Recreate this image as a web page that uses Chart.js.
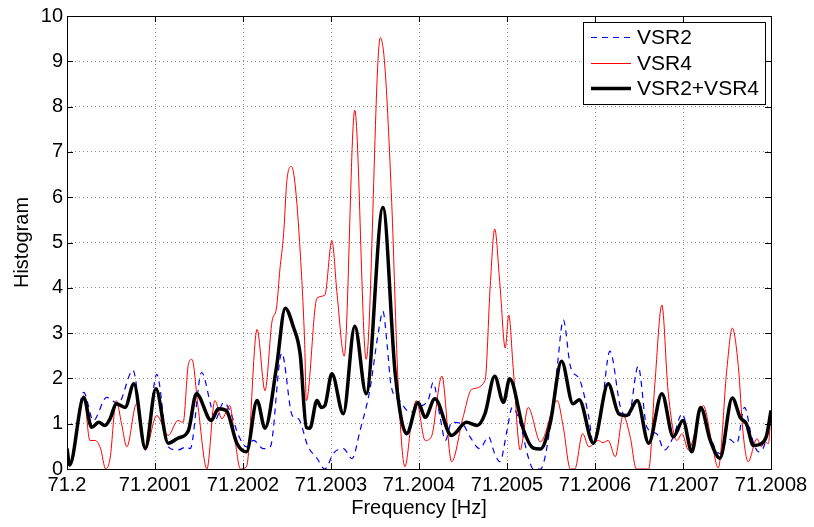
<!DOCTYPE html>
<html>
<head>
<meta charset="utf-8">
<script src="https://cdn.jsdelivr.net/npm/chart.js@4/dist/chart.umd.min.js"></script>
<style>
  html, body { margin: 0; padding: 0; background: #fff; }
</style>
</head>
<body>
<canvas id="chart" width="814" height="527"></canvas>
<script>
// x positions are offsets from 71.2 Hz, in micro-hertz
const xTickValues = [0, 100, 200, 300, 400, 500, 600, 700, 800];
const xTickLabels = ['71.2', '71.2001', '71.2002', '71.2003', '71.2004', '71.2005', '71.2006', '71.2007', '71.2008'];
const yTickValues = [0, 1, 2, 3, 4, 5, 6, 7, 8, 9, 10];

const seriesNames = ['VSR2', 'VSR4', 'VSR2+VSR4'];

const vsr2Offset = [0, 3, 19, 30, 45, 58, 75, 89, 102, 115, 126, 136, 140, 153, 163, 168, 178, 185, 195, 204,
  212, 223, 231, 244, 256, 263, 274, 284, 293, 303, 314, 324, 333, 344, 354, 359, 364, 368, 378, 390,
  399, 411, 416, 424, 430, 437, 449, 458, 469, 479, 486, 492, 500, 506, 515, 524, 530, 538, 549, 557,
  564, 572, 583, 593, 598, 606, 617, 629, 638, 649, 659, 670, 679, 689, 699, 710, 721, 731, 742, 751,
  761, 770, 778, 786, 793, 800];
const vsr2Hist = [0.49, 0.13, 1.69, 1.07, 1.58, 1.44, 2.18, 0.42, 2.09, 0.49, 0.42, 0.49, 0.45, 2.13, 1.44, 1.07, 1.47, 1.29, 0.74, 0.49,
  0.63, 0.45, 0.49, 2.56, 1.18, 1.11, 0.49, 0.24, 0, 0.35, 0.45, 0.23, 0.85, 1.73, 3.04, 3.48, 2.7, 1.87, 1.51, 1.25,
  1.36, 1.55, 1.91, 1.14, 0.63, 1.03, 1.0, 0.71, 0.45, 0.71, 0.34, 0.16, 0.85, 1.36, 1.0, 0.27, 0, 0, 0.92, 2.24,
  3.29, 2.27, 1.95, 1.14, 0.56, 1.07, 2.6, 1.36, 1.14, 2.27, 0.92, 0.78, 0.42, 0.71, 1.22, 0.49, 1.36, 0.71, 0.34, 0.67,
  0.56, 1.36, 0.71, 0.38, 0.56, 1.40];

const vsr4Offset = [0, 3, 19, 26, 32, 38, 44, 49, 56, 62, 68, 79, 89, 102, 115, 126, 132, 138, 142, 149,
  159, 168, 176, 185, 191, 197, 204, 216, 225, 233, 238, 242, 246, 250, 255, 259, 265, 270, 272, 284,
  293, 301, 307, 315, 327, 340, 356, 361, 369, 376, 384, 392, 397, 407, 414, 426, 437, 450, 460, 475,
  481, 486, 492, 498, 502, 507, 515, 524, 538, 557, 564, 572, 577, 586, 593, 604, 609, 615, 623, 632,
  640, 647, 661, 668, 676, 683, 693, 699, 706, 723, 733, 740, 750, 756, 763, 768, 774, 784, 789, 793,
  797, 800];
const vsr4Hist = [0.35, 0.09, 1.62, 0.63, 0.63, 0.46, 0.0, 0.24, 1.51, 1.0, 0.49, 1.44, 0.42, 1.18, 0.74, 1.07, 1.03, 2.32, 2.42, 1.36,
  0, 1.51, 1.11, 1.40, 0.63, 0, 0.05, 3.08, 1.73, 3.26, 3.55, 4.42, 5.15, 6.39, 6.68, 6.32, 4.79, 2.82, 1.51, 3.77,
  3.84, 5.04, 3.84, 2.49, 7.92, 2.42, 9.52, 8.94, 5.88, 2.02, 0.05, 1.14, 1.51, 0.63, 0.71, 2.05, 0.16, 1.14, 1.76, 1.95,
  4.06, 5.30, 4.06, 2.67, 3.40, 2.24, 0.42, 1.36, 0.60, 1.51, 0.92, 0, 0, 0.78, 0.49, 0.63, 0.58, 0.63, 0.27, 1.18,
  0.71, 0, 0, 1.87, 3.62, 1.73, 0.63, 0.78, 0.42, 1.40, 0.56, 0.02, 2.24, 3.11, 2.24, 0.85, 0.16, 0.67, 0.49, 0.60,
  0.56, 1.25];

const sumOffset = [0, 3, 19, 28, 36, 43, 49, 56, 66, 76, 89, 101, 115, 126, 138, 147, 164, 172, 181, 193,
  204, 216, 225, 238, 248, 257, 265, 272, 276, 284, 289, 293, 301, 314, 327, 340, 359, 373, 386, 399,
  407, 418, 437, 454, 466, 475, 486, 496, 503, 519, 530, 538, 549, 562, 575, 582, 598, 615, 627, 636,
  648, 661, 676, 689, 700, 710, 720, 731, 742, 756, 765, 772, 780, 789, 795, 800];
const sumHist = [0.45, 0.09, 1.58, 0.92, 1.03, 0.96, 1.11, 1.44, 1.36, 1.88, 0.46, 1.77, 0.57, 0.68, 0.85, 1.66, 1.07, 1.33, 1.29, 0.57,
  0.38, 1.51, 0.90, 2.24, 3.55, 3.15, 2.53, 0.92, 0.90, 1.51, 1.36, 1.40, 2.10, 1.22, 3.15, 1.66, 5.77, 2.10, 0.78, 1.47,
  1.14, 1.55, 0.74, 1.03, 0.96, 1.22, 2.05, 1.47, 1.99, 0.85, 0.46, 0.44, 1.0, 2.38, 1.44, 1.53, 0.57, 1.88, 1.22, 1.18,
  1.51, 0.57, 1.66, 0.71, 1.07, 0.38, 1.36, 0.63, 0.24, 1.57, 1.14, 1.0, 0.52, 0.56, 0.74, 1.29];

const fontFamily = '"Liberation Sans", Arial, Helvetica, sans-serif';

function points(xs, ys) {
  return xs.map((x, i) => ({ x: x, y: ys[i] }));
}

// box round the axes with inward ticks, like matlab
const axesBox = {
  id: 'axesBox',
  afterDatasetsDraw(chart) {
    const { ctx, chartArea: a, scales } = chart;
    ctx.save();
    ctx.strokeStyle = '#000';
    ctx.lineWidth = 1;
    ctx.setLineDash([]);
    ctx.strokeRect(Math.round(a.left) + 0.5, Math.round(a.top) + 0.5,
      Math.round(a.right - a.left), Math.round(a.bottom - a.top));
    ctx.beginPath();
    xTickValues.forEach(v => {
      const px = Math.round(scales.x.getPixelForValue(v)) + 0.5;
      ctx.moveTo(px, a.bottom); ctx.lineTo(px, a.bottom - 6);
      ctx.moveTo(px, a.top); ctx.lineTo(px, a.top + 6);
    });
    yTickValues.forEach(v => {
      const py = Math.round(scales.y.getPixelForValue(v)) + 0.5;
      ctx.moveTo(a.left, py); ctx.lineTo(a.left + 6, py);
      ctx.moveTo(a.right, py); ctx.lineTo(a.right - 6, py);
    });
    ctx.stroke();
    ctx.restore();
  }
};

const boxLegend = {
  id: 'boxLegend',
  afterDraw(chart) {
    const { ctx, chartArea: a } = chart;
    const w = 182, h = 82;
    const x0 = Math.round(a.right - 6 - w), y0 = Math.round(a.top + 6);
    ctx.save();
    ctx.fillStyle = '#fff';
    ctx.fillRect(x0, y0, w, h);
    ctx.strokeStyle = '#000';
    ctx.lineWidth = 1;
    ctx.strokeRect(x0 + 0.5, y0 + 0.5, w, h);
    ctx.font = '21px ' + fontFamily;
    ctx.textBaseline = 'middle';
    chart.data.datasets.forEach((ds, i) => {
      const cy = Math.round(y0 + 15 + i * 25.5) + 0.5;
      ctx.beginPath();
      ctx.setLineDash(ds.borderDash || []);
      ctx.strokeStyle = ds.borderColor;
      ctx.lineWidth = ds.borderWidth;
      ctx.moveTo(x0 + 8, cy);
      ctx.lineTo(x0 + 48, cy);
      ctx.stroke();
      ctx.setLineDash([]);
      ctx.fillStyle = '#000';
      ctx.fillText(ds.label, x0 + 54, cy + 1);
    });
    ctx.restore();
  }
};

const data = {
  datasets: [{
    label: seriesNames[0],
    data: points(vsr2Offset, vsr2Hist),
    borderColor: '#0000ff',
    borderWidth: 1.2,
    borderDash: [6, 5],
    order: 2,
  }, {
    label: seriesNames[1],
    data: points(vsr4Offset, vsr4Hist),
    borderColor: '#ff0000',
    borderWidth: 1,
    order: 1,
  }, {
    label: seriesNames[2],
    data: points(sumOffset, sumHist),
    borderColor: '#000000',
    borderWidth: 3.5,
    order: 0,
  }]
};

const config = {
  type: 'line',
  data: data,
  options: {
    responsive: false,
    animation: false,
    layout: { padding: { top: 11, right: 43, left: 0, bottom: 0 } },
    elements: {
      point: { radius: 0 },
      line: { cubicInterpolationMode: 'monotone', fill: false }
    },
    plugins: {
      legend: { display: false },
      tooltip: { enabled: false }
    },
    scales: {
      x: {
        type: 'linear',
        min: 0,
        max: 800,
        afterBuildTicks: s => { s.ticks = xTickValues.map(v => ({ value: v })); },
        afterFit: s => { s.height = 58; },
        ticks: {
          callback: v => xTickLabels[xTickValues.indexOf(v)],
          font: { family: fontFamily, size: 20 },
          color: '#000',
          padding: 4,
          maxRotation: 0,
          autoSkip: false
        },
        grid: { color: '#8c8c8c', drawTicks: false },
        border: { display: false, dash: [1, 3] },
        title: {
          display: true,
          text: 'Frequency [Hz]',
          font: { family: fontFamily, size: 20 },
          color: '#000',
          padding: { top: 0, bottom: 7 }
        }
      },
      y: {
        min: 0,
        max: 10,
        afterBuildTicks: s => { s.ticks = yTickValues.map(v => ({ value: v })); },
        afterFit: s => { s.width = 67; },
        ticks: {
          font: { family: fontFamily, size: 20 },
          color: '#000',
          padding: 4
        },
        grid: { color: '#8c8c8c', drawTicks: false },
        border: { display: false, dash: [1, 3] },
        title: {
          display: true,
          text: 'Histogram',
          font: { family: fontFamily, size: 20 },
          color: '#000',
          padding: { top: 10, bottom: 0 }
        }
      }
    }
  },
  plugins: [axesBox, boxLegend]
};

var myChart = new Chart(document.getElementById('chart').getContext('2d'), config);
</script>
</body>
</html>
